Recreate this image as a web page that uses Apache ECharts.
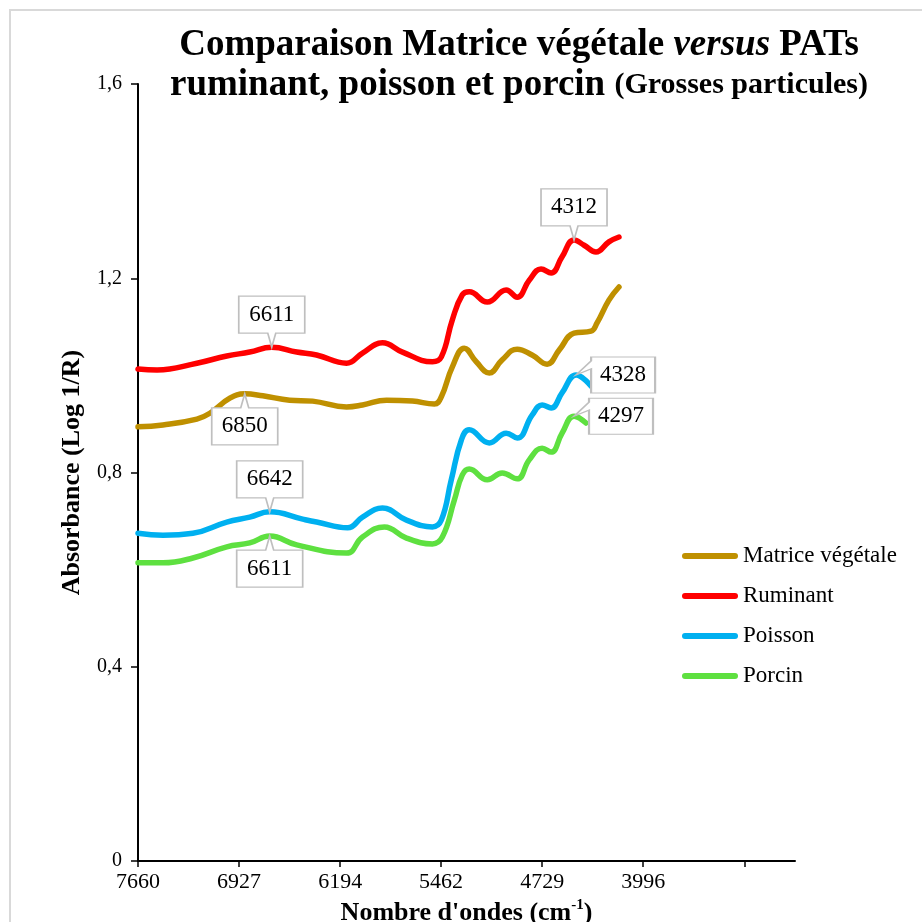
<!DOCTYPE html>
<html>
<head>
<meta charset="utf-8">
<script src="https://cdn.jsdelivr.net/npm/echarts@6/dist/echarts.min.js"></script>
<style>
  html, body { margin: 0; padding: 0; background: #fff; }
  #chart { width: 922px; height: 922px; }
</style>
</head>
<body>
<div id="chart"></div>
<script>
// spectra (wavenumber cm-1, absorbance)
var seriesNames = ['Matrice végétale', 'Ruminant', 'Poisson', 'Porcin'];
var seriesColors = ['#BF9000', '#FF0000', '#00B0F0', '#5EE040'];

var matriceX = [7660, 7479, 7233, 7139, 6994, 6886, 6755, 6560, 6394, 6148, 6032, 5858, 5670, 5511, 5460, 5381, 5294, 5207, 5113, 5019, 4910, 4802, 4693, 4606, 4498, 4375, 4331, 4245, 4172];
var matriceY = [0.894, 0.898, 0.910, 0.922, 0.953, 0.962, 0.958, 0.949, 0.947, 0.935, 0.939, 0.949, 0.947, 0.941, 0.956, 1.017, 1.056, 1.028, 1.005, 1.032, 1.054, 1.042, 1.023, 1.052, 1.087, 1.091, 1.108, 1.155, 1.182];

var ruminantX = [7660, 7522, 7233, 7016, 6850, 6690, 6509, 6365, 6148, 6032, 5887, 5742, 5525, 5460, 5381, 5308, 5258, 5127, 4990, 4910, 4823, 4737, 4664, 4585, 4498, 4425, 4339, 4245, 4172];
var ruminantY = [1.013, 1.011, 1.025, 1.040, 1.048, 1.058, 1.048, 1.042, 1.025, 1.046, 1.067, 1.048, 1.028, 1.038, 1.114, 1.166, 1.172, 1.151, 1.176, 1.161, 1.196, 1.219, 1.211, 1.244, 1.279, 1.268, 1.254, 1.275, 1.285];

var poissonX = [7660, 7479, 7262, 7016, 6850, 6705, 6466, 6365, 6140, 6032, 5887, 5713, 5525, 5460, 5388, 5315, 5258, 5113, 4990, 4910, 4802, 4729, 4664, 4585, 4483, 4375];
var poissonY = [0.675, 0.671, 0.675, 0.698, 0.708, 0.719, 0.704, 0.698, 0.686, 0.708, 0.727, 0.702, 0.688, 0.702, 0.785, 0.867, 0.888, 0.861, 0.881, 0.871, 0.918, 0.939, 0.933, 0.964, 1.001, 0.978];

var porcinX = [7660, 7479, 7262, 7016, 6850, 6705, 6509, 6148, 6032, 5873, 5713, 5525, 5453, 5366, 5308, 5258, 5127, 5019, 4910, 4823, 4729, 4664, 4585, 4498, 4411];
var porcinY = [0.614, 0.614, 0.624, 0.647, 0.655, 0.669, 0.651, 0.634, 0.667, 0.688, 0.665, 0.653, 0.667, 0.743, 0.795, 0.807, 0.785, 0.799, 0.787, 0.826, 0.850, 0.842, 0.881, 0.916, 0.902];

var xTicks = [7660, 6927, 6194, 5462, 4729, 3996, 3263];
var xLabels = [7660, 6927, 6194, 5462, 4729, 3996];

// callouts: series, point index, text, side
var noteSeries = [1, 0, 2, 3, 1, 2, 3];
var noteIndex = [5, 5, 5, 5, 24, 24, 23];
var noteText = ['6611', '6850', '6642', '6611', '4312', '4328', '4297'];
var noteSide = ['above', 'below', 'above', 'below', 'above', 'right', 'right'];

var serif = "'Liberation Serif', 'Times New Roman', serif";
var xs = [matriceX, ruminantX, poissonX, porcinX];
var ys = [matriceY, ruminantY, poissonY, porcinY];

var callout = {
  above: { symbol: 'path://M0,0H66V37H37L33,51L29,37H0Z', size: [66, 51], offset: [0, -25.5], label: [0, -7] },
  below: { symbol: 'path://M0,14H29L33,0L37,14H66V51H0Z', size: [66, 51], offset: [0, 25.5], label: [0, 7] },
  right: { symbol: 'path://M15,0H79V36H15V12L0,18L15,4Z', size: [79, 36], offset: [39.5, 0], label: [7.5, 0] }
};

function notesFor(s) {
  var out = [];
  for (var i = 0; i < noteSeries.length; i++) {
    if (noteSeries[i] !== s) continue;
    var c = callout[noteSide[i]];
    var k = noteIndex[i];
    out.push({
      coord: [xs[s][k], ys[s][k]],
      symbol: c.symbol,
      symbolSize: c.size,
      symbolOffset: c.offset,
      label: { formatter: noteText[i], offset: c.label }
    });
  }
  return out;
}

var series = seriesNames.map(function (name, s) {
  return {
    name: name,
    type: 'line',
    data: xs[s].map(function (x, i) { return [x, ys[s][i]]; }),
    showSymbol: false,
    symbol: 'none',
    smooth: 0.45,
    color: seriesColors[s],
    lineStyle: { width: 5.5, color: seriesColors[s], cap: 'round', join: 'round' },
    markPoint: {
      silent: true,
      itemStyle: { color: '#fff', borderColor: '#BFBFBF', borderWidth: 1.5 },
      label: { show: true, position: 'inside', color: '#000', fontFamily: serif, fontSize: 23 },
      data: notesFor(s)
    }
  };
});

var chart = echarts.init(document.getElementById('chart'), null, { renderer: 'canvas' });
chart.setOption({
  animation: false,
  backgroundColor: '#fff',
  graphic: [{
    type: 'rect', z: -10,
    shape: { x: 10, y: 10, width: 1000, height: 1000 },
    style: { fill: 'none', stroke: '#D9D9D9', lineWidth: 2 }
  }],
  title: {
    left: 514, top: 20, textAlign: 'center',
    text: '{a|Comparaison Matrice végétale }{i|versus}{a| PATs}\n{a|ruminant, poisson et porcin }{s|(Grosses particules)}',
    textStyle: {
      rich: {
        a: { fontFamily: serif, fontWeight: 'bold', fontSize: 37, lineHeight: 40, color: '#000' },
        i: { fontFamily: serif, fontWeight: 'bold', fontStyle: 'italic', fontSize: 37, lineHeight: 40, color: '#000' },
        s: { fontFamily: serif, fontWeight: 'bold', fontSize: 30, lineHeight: 40, color: '#000' }
      }
    }
  },
  legend: {
    orient: 'vertical', left: 677, top: 539,
    itemWidth: 56, itemHeight: 6, itemGap: 16,
    icon: 'path://M3,0H53A3,3 0 0 1 53,6H3A3,3 0 0 1 3,0Z',
    textStyle: { fontFamily: serif, fontSize: 23, lineHeight: 24, color: '#000' },
    data: seriesNames
  },
  grid: { left: 138, right: 127, top: 84, bottom: 61, containLabel: false, outerBoundsMode: 'none' },
  xAxis: {
    type: 'value', inverse: true, min: 2895.5, max: 7660,
    name: '{n|Nombre d\'ondes (cm}{s|-1}{n|)}',
    nameLocation: 'middle', nameGap: 34,
    nameTextStyle: {
      rich: {
        n: { fontFamily: serif, fontWeight: 'bold', fontSize: 26, lineHeight: 30, color: '#000' },
        s: { fontFamily: serif, fontWeight: 'bold', fontSize: 15, lineHeight: 14, verticalAlign: 'top', color: '#000' }
      }
    },
    axisLine: { onZero: false, lineStyle: { color: '#000', width: 2 } },
    axisTick: { show: true, customValues: xTicks, length: 6, lineStyle: { color: '#000', width: 1.5 } },
    axisLabel: { customValues: xLabels, margin: 10, fontFamily: serif, fontSize: 22, color: '#000',
      formatter: function (v) { return String(v); } },
    splitLine: { show: false }
  },
  yAxis: {
    type: 'value', min: 0, max: 1.6, interval: 0.4,
    name: 'Absorbance (Log 1/R)',
    nameLocation: 'middle', nameGap: 53, nameRotate: 90,
    nameTextStyle: { fontFamily: serif, fontWeight: 'bold', fontSize: 26, color: '#000' },
    axisLine: { show: true, lineStyle: { color: '#000', width: 2 } },
    axisTick: { show: true, length: 7, lineStyle: { color: '#000', width: 1.5 } },
    axisLabel: { margin: 16, fontFamily: serif, fontSize: 20, color: '#000',
      formatter: function (v) { return v === 0 ? '0' : v.toFixed(1).replace('.', ','); } },
    splitLine: { show: false }
  },
  series: series
});
</script>
</body>
</html>
